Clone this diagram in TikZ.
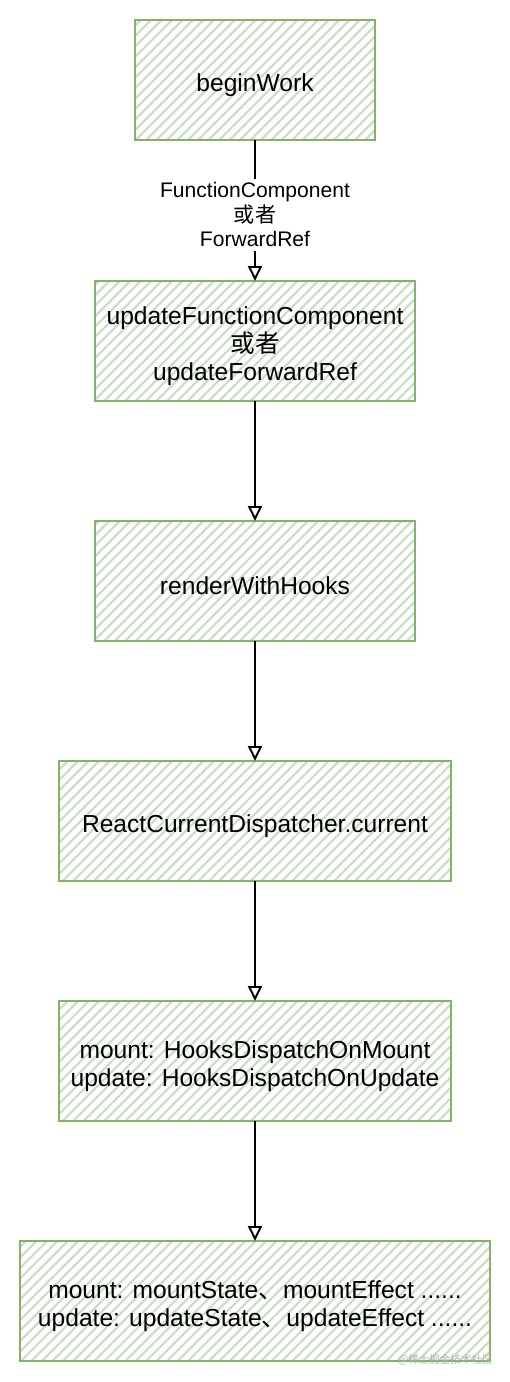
\documentclass[tikz,border=0pt]{standalone}
\usepackage{fontspec}
\setmainfont{Liberation Sans}
\newfontfamily\cjk{Noto Sans CJK SC}
\usepackage{xcolor}
\usetikzlibrary{arrows.meta,positioning,patterns.meta}
\definecolor{Leaf}{HTML}{82B366}
\definecolor{Hatch}{HTML}{C8DEC3}
\newcommand{\lift}{\rule{0pt}{15.6pt}}
\tikzset{
    every node/.style={font=\fontsize{14}{16}\selectfont},
    hookbox/.style={
        draw=Leaf, line width=1.1pt, fill=white,
        pattern={Lines[angle=45,distance=4.2pt,line width=1.2pt]},
        pattern color=Hatch,
        minimum height=2.4cm, inner sep=0pt, outer sep=0pt,
        align=center, text=black
    },
    flowarrow/.style={
        -{Triangle[open,length=0.3cm,width=0.28cm]}, line width=1.1pt
    },
}

\begin{document}
\begin{tikzpicture}[node distance=2.4cm]
    \useasboundingbox[fill=white] (0,0) rectangle (10.2,-27.64);
    % Nodes
    \node[hookbox, minimum width=4.8cm] (begin) at (5.1,-1.6) {\lift beginWork};
    \node[hookbox, minimum width=6.4cm, below=2.82cm of begin] (update) {\lift updateFunctionComponent\\{\cjk 或者}\\updateForwardRef};
    \node[hookbox, minimum width=6.4cm, below=of update] (render) {\lift renderWithHooks};
    \node[hookbox, minimum width=7.84cm, below=of render] (dispatcher) {\lift ReactCurrentDispatcher.current};
    \node[hookbox, minimum width=7.84cm, below=of dispatcher] (dispatch) {\lift mount: HooksDispatchOnMount\\update: HooksDispatchOnUpdate};
    \node[hookbox, minimum width=9.4cm, below=of dispatch] (hooks) {\lift mount: mountState{\cjk 、}mountEffect ......\\update: updateState{\cjk 、}updateEffect ......};

    % Arrows
    \draw[flowarrow] (begin) -- node[fill=white, inner sep=2pt, align=center, font=\fontsize{12}{14}\selectfont, pos=0.53] {FunctionComponent\\{\cjk 或者}\\ForwardRef} (update);
    \draw[flowarrow] (update) -- (render);
    \draw[flowarrow] (render) -- (dispatcher);
    \draw[flowarrow] (dispatcher) -- (dispatch);
    \draw[flowarrow] (dispatch) -- (hooks);

    % Watermark
    \node[anchor=east, inner sep=0pt, text=black!30, font=\fontsize{6}{7}\selectfont\cjk] (mark) at (9.86,-27.2) {@稀土掘金技术社区};
\end{tikzpicture}
\end{document}
